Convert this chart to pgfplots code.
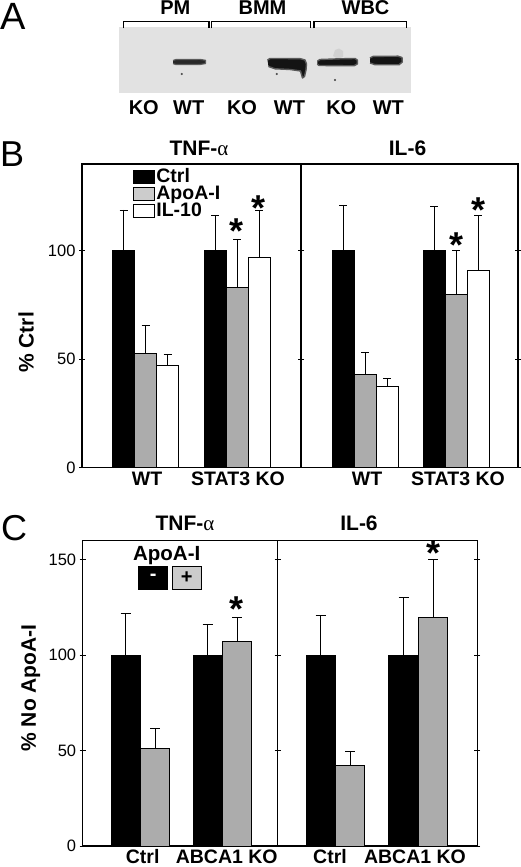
\documentclass[border=0pt]{standalone}
\usepackage{pgfplots}
\pgfplotsset{compat=1.18}
\usepackage{fontspec}
\setmainfont{Liberation Sans}
\newfontfamily\greekserif{Liberation Serif}
\newcommand{\fs}[1]{\fontsize{#1}{#1}\selectfont}
\newcommand{\alp}{{\greekserif\mdseries\upshape α}}
\definecolor{bargray}{RGB}{172,172,172}
\definecolor{leggray}{RGB}{204,204,204}
\definecolor{blotbg}{RGB}{226,226,226}
\definecolor{band}{RGB}{20,20,20}

\tikzset{sigstar/.style={font=\bfseries\fs{36}, anchor=base, yshift=-20pt}}
\pgfplotsset{
  panel/.style={
    scale only axis, clip=false,
    enlargelimits=false, xmin=0, ymin=0,
    axis line style={line width=1.1pt},
    tick align=center, major tick length=6pt,
    ytick pos=both,
    tick style={line width=0.9pt, black},
    xtick style={draw=none},
    /pgf/number format/assume math mode=true,
    yticklabel style={font=\fs{16.5}},
    xticklabel style={font=\bfseries\fs{19.5}, anchor=base, yshift=-15pt},
  },
  bbar/.style={ybar, bar width=#1, bar shift=0pt, draw=black, line width=0.8pt,
     error bars/y dir=plus, error bars/y explicit,
     error bars/error bar style={line width=0.9pt, black},
     error bars/error mark options={rotate=90, line width=0.9pt, black, mark size=4pt}},
  legB/.style={legend image code/.code={\draw[fill=#1, draw=black, line width=0.8pt] (0pt,-4.5pt) rectangle (21pt,8.1pt);}},
  legCminus/.style={legend image code/.code={\draw[fill=black, draw=black, line width=0.8pt] (0pt,0pt) rectangle (29pt,23.6pt);
     \node[text=white, font=\bfseries\fs{20}] at (14.5pt,11.8pt) {-};}},
  legCplus/.style={legend image code/.code={\draw[fill=leggray, draw=black, line width=0.8pt] (0pt,0pt) rectangle (29pt,23.6pt);
     \node[text=black, font=\bfseries\fs{20}] at (14.5pt,11.8pt) {+};}},
}

\begin{document}
\begin{tikzpicture}
\useasboundingbox (0pt,0pt) rectangle (520pt,867pt);

% ---------- panel letters ----------
\node[anchor=base west, inner sep=0pt, font=\fs{38}] at (0pt,837pt) {A};
\node[anchor=base west, inner sep=0pt, font=\fs{36}] at (0pt,700.3pt) {B};
\node[anchor=base west, inner sep=0pt, font=\fs{36}] at (1pt,326pt) {C};

% ---------- Panel A: blot ----------
\begin{axis}[at={(0pt,747pt)}, anchor=south west, scale only axis,
  width=520pt, height=120pt, xmin=0, xmax=520, ymin=0, ymax=120,
  y dir=reverse, hide axis, clip=false]
\addplot[fill=blotbg, draw=none] coordinates {(118.5,27.5)(411,27.5)(411,92.7)(118.5,92.7)};
\addplot[fill=gray!45, draw=none, opacity=0.6] coordinates {(333,56)(335,50)(339,48.5)(343,51)(343,57)(338,59)};
\addplot[fill=band, draw=band!70, line width=1.2pt, opacity=0.9, line join=round] coordinates {(173,60.5)(176,59.5)(200,59.4)(205.5,60.3)(205.5,63.6)(200,64.5)(176,64.6)(173,63.6)};
\addplot[fill=band, draw=band!70, line width=1.4pt, line join=round] coordinates {(267.5,60)(270,58.5)(300,58.6)(305,60)(306.5,64)(306,70)(304.5,76.5)(302.5,78)(300.5,71)(290,69.5)(275,68.8)(268.5,66.5)};
\addplot[fill=band, draw=band!70, line width=1.4pt, line join=round] coordinates {(317.5,61)(320,59.5)(340,58.8)(355,58.5)(357.3,60)(357.3,64)(354,65.8)(330,65.6)(319,65.5)(317.3,64)};
\addplot[fill=band, draw=band!70, line width=1.4pt, line join=round] coordinates {(370,58)(373,56.4)(398,56.2)(402,57.5)(402.3,62)(399,64.8)(375,64.7)(370,63)};
\addplot[only marks, mark=*, mark size=0.9pt, black!70] coordinates {(181.7,74)(276.7,74)(335,80)};
\addplot[black, line width=1.3pt] coordinates {(123.5,28.5)(123.5,21.7)(209,21.7)(209,28.5)};
\addplot[black, line width=1.3pt] coordinates {(211.5,28.5)(211.5,21.7)(310.7,21.7)(310.7,28.5)};
\addplot[black, line width=1.3pt] coordinates {(314,28.5)(314,21.7)(406.7,21.7)(406.7,28.5)};
\node[anchor=base, font=\bfseries\fs{20}] at (axis cs:175.3,15) {PM};
\node[anchor=base, font=\bfseries\fs{20}] at (axis cs:262.5,15) {BMM};
\node[anchor=base, font=\bfseries\fs{20}] at (axis cs:365.5,15) {WBC};
\node[anchor=base, font=\bfseries\fs{20}] at (axis cs:143.8,115) {KO};
\node[anchor=base, font=\bfseries\fs{20}] at (axis cs:188.7,115) {WT};
\node[anchor=base, font=\bfseries\fs{20}] at (axis cs:242,115) {KO};
\node[anchor=base, font=\bfseries\fs{20}] at (axis cs:289.5,115) {WT};
\node[anchor=base, font=\bfseries\fs{20}] at (axis cs:341.3,115) {KO};
\node[anchor=base, font=\bfseries\fs{20}] at (axis cs:388.3,115) {WT};
\end{axis}

% ---------- Panel B titles ----------
\node[anchor=base, font=\bfseries\fs{21}] at (199pt,711pt) {TNF-\alp};
\node[anchor=base, font=\bfseries\fs{21}] at (407.5pt,711pt) {IL-6};

% ---------- Panel B left (TNF-alpha) ----------
\begin{axis}[panel, at={(82pt,399.3pt)}, anchor=south west,
  width=219pt, height=303.7pt, xmax=219, ymax=140,
  ytick={0,50,100}, xtick={65,156}, xticklabels={WT,STAT3 KO},
  ylabel={\bfseries\fs{21}\% Ctrl},
  ylabel style={at={(axis description cs:-0.2557,0.4125)}, anchor=center},
  legend style={at={(axis cs:51.3,137.2)}, anchor=north west, draw=none, fill=none,
    inner sep=0pt, outer sep=0pt, row sep=0pt, /tikz/column sep=1.3pt,
    font=\bfseries\fs{19.5}, nodes={inner sep=0pt, text height=12.6pt, text depth=4.3pt}},
  legend cell align=left]
\addplot[bbar=22pt, fill=black, legB=black]
  coordinates {(41.5,100) +- (0,18.8) (133,100) +- (0,16.2)};
\addplot[bbar=22pt, fill=bargray, legB=leggray]
  coordinates {(63.5,52.8) +- (0,12.6) (155,83.1) +- (0,22.3)};
\addplot[bbar=22pt, fill=white, legB=white]
  coordinates {(85.5,47.1) +- (0,4.9) (177,96.8) +- (0,22.0)};
\legend{Ctrl,ApoA-I,IL-10}
\node[sigstar] at (axis cs:155,112.7) {*};
\node[sigstar] at (axis cs:177,123.1) {*};
\end{axis}

% ---------- Panel B right (IL-6) ----------
\begin{axis}[panel, at={(301pt,399.3pt)}, anchor=south west,
  width=217pt, height=303.7pt, xmax=217, ymax=140,
  ytick={0,50,100}, yticklabels={}, xtick={66,157}, xticklabels={WT,STAT3 KO}]
\addplot[bbar=22pt, fill=black] coordinates {(42,100) +- (0,21.1) (133,100) +- (0,20.2)};
\addplot[bbar=22pt, fill=bargray] coordinates {(64,43.1) +- (0,10.2) (155,80.0) +- (0,20.0)};
\addplot[bbar=22pt, fill=white] coordinates {(86,37.3) +- (0,3.8) (177,91.0) +- (0,25.2)};
\node[sigstar] at (axis cs:155,106.1) {*};
\node[sigstar] at (axis cs:177,122.3) {*};
\end{axis}

% ---------- Panel C titles ----------
\node[anchor=base, font=\bfseries\fs{21}] at (185pt,336.3pt) {TNF-\alp};
\node[anchor=base, font=\bfseries\fs{21}] at (359pt,336.3pt) {IL-6};

% ---------- Panel C left (TNF-alpha) ----------
\begin{axis}[panel, at={(82.7pt,21pt)}, anchor=south west,
  width=195pt, height=305.3pt, xmax=195, ymax=160,
  ytick={0,50,100,150}, xtick={60,144}, xticklabels={Ctrl,ABCA1 KO},
  xticklabel style={yshift=1pt},
  ylabel={\bfseries\fs{21}\% No ApoA-I},
  ylabel style={at={(axis description cs:-0.2667,0.5175)}, anchor=center},
  legend columns=2,
  legend style={at={(axis cs:55.6,146.9)}, anchor=north west, draw=none, fill=none,
    inner sep=0pt, outer sep=0pt, /tikz/column sep=1.3pt,
    nodes={inner sep=0pt}}]
\addplot[bbar=29.3pt, fill=black, legCminus,
  error bars/error mark options={rotate=90, line width=0.9pt, black, mark size=5pt}]
  coordinates {(43,100) +- (0,22.1) (125,100) +- (0,16.1)};
\addplot[bbar=29.3pt, fill=bargray, legCplus,
  error bars/error mark options={rotate=90, line width=0.9pt, black, mark size=5pt}]
  coordinates {(72.3,50.9) +- (0,10.6) (154.3,107.0) +- (0,13.0)};
\addlegendentry{}
\addlegendentry{}
\node[anchor=base, font=\bfseries\fs{20.5}] at (axis cs:84,149.5) {ApoA-I};
\node[sigstar] at (axis cs:154.3,127.9) {*};
\end{axis}

% ---------- Panel C right (IL-6) ----------
\begin{axis}[panel, at={(277.7pt,21pt)}, anchor=south west,
  width=199.5pt, height=305.3pt, xmax=199.5, ymax=160,
  xticklabel style={yshift=1pt},
  ytick={0,50,100,150}, yticklabels={}, xtick={52.3,137.3}, xticklabels={Ctrl,ABCA1 KO}]
\addplot[bbar=29.3pt, fill=black,
  error bars/error mark options={rotate=90, line width=0.9pt, black, mark size=5pt}]
  coordinates {(43,100) +- (0,21.0) (125.8,100) +- (0,30.0)};
\addplot[bbar=29.3pt, fill=bargray,
  error bars/error mark options={rotate=90, line width=0.9pt, black, mark size=5pt}]
  coordinates {(72.5,42.3) +- (0,7.4) (155.5,120.0) +- (0,30.2)};
\node[sigstar] at (axis cs:155.5,157.7) {*};
\end{axis}
\end{tikzpicture}
\end{document}
